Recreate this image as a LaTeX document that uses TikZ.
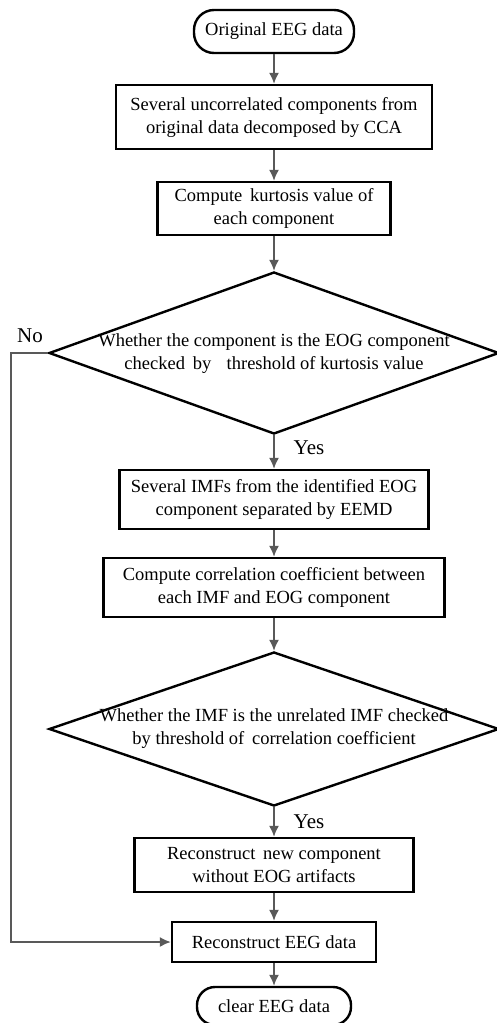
\documentclass[tikz,border=0pt]{standalone}
\usepackage{fontspec}
\setmainfont{Liberation Serif}
\usetikzlibrary{shapes.geometric,arrows.meta}
\tikzset{
  boxnode/.style={draw=black,line width=2.4pt,rectangle,align=center,inner sep=0pt,
    font=\fontsize{18.5}{23}\selectfont},
  termnode/.style={boxnode,rounded corners=20pt},
  dianode/.style={draw=black,line width=2.4pt,diamond,inner sep=0pt},
  dtext/.style={align=center,font=\fontsize{18.5}{23}\selectfont},
  lbl/.style={font=\fontsize{21}{24}\selectfont},
  conn/.style={draw=black!65,line width=1.6pt,-{Latex[length=11pt,width=10pt]}},
  plainconn/.style={draw=black!65,line width=1.6pt}
}
\begin{document}
\begin{tikzpicture}[x=1pt,y=-1pt]
\useasboundingbox (0,0) rectangle (496,1023);
\node[termnode,minimum width=160pt,minimum height=43pt] (t1) at (274,31.5) {Original EEG data};
\node[boxnode,minimum width=316pt,minimum height=64pt] (b1) at (274,117) {Several uncorrelated components from\\original data decomposed by CCA};
\node[boxnode,minimum width=233pt,minimum height=53pt] (b2) at (274,208.5) {Compute\, kurtosis value of\\each component};
\node[dianode,minimum width=450pt,minimum height=162pt] (d1) at (274,353) {};
\node[dtext] (d1t) at (274,354) {Whether the component is the EOG component\\checked\, by\, \, threshold of kurtosis value};
\node[lbl] (yes1) at (309,448) {Yes};
\node[boxnode,minimum width=309pt,minimum height=59pt] (b3) at (274,499.5) {Several IMFs from the identified EOG\\component separated by EEMD};
\node[boxnode,minimum width=341pt,minimum height=59pt] (b4) at (274,587.5) {Compute correlation coefficient between\\each IMF and EOG component};
\node[dianode,minimum width=450pt,minimum height=154pt] (d2) at (274,729) {};
\node[dtext] (d2t) at (274,729) {Whether the IMF is the unrelated IMF checked\\by threshold of\, correlation coefficient};
\node[lbl] (yes2) at (309,822) {Yes};
\node[boxnode,minimum width=279pt,minimum height=54pt] (b5) at (274,865) {Reconstruct\, new component\\without EOG artifacts};
\node[boxnode,minimum width=204pt,minimum height=40pt] (b6) at (274,942) {Reconstruct EEG data};
\node[termnode,minimum width=154pt,minimum height=38pt,rounded corners=18pt] (t2) at (274,1006) {clear EEG data};
\node[lbl] (no) at (30,336) {No};
\coordinate (c1) at (11,353);
\coordinate (c2) at (11,942);
\draw[conn] (t1.south) -- (b1.north);
\draw[conn] (b1.south) -- (b2.north);
\draw[conn] (b2.south) -- (d1.north);
\draw[conn] (d1.south) -- (b3.north);
\draw[conn] (b3.south) -- (b4.north);
\draw[conn] (b4.south) -- (d2.north);
\draw[conn] (d2.south) -- (b5.north);
\draw[conn] (b5.south) -- (b6.north);
\draw[conn] (b6.south) -- (t2.north);
\draw[conn] (d1.west) -- (c1) -- (c2) -- (b6.west);
\end{tikzpicture}
\end{document}
